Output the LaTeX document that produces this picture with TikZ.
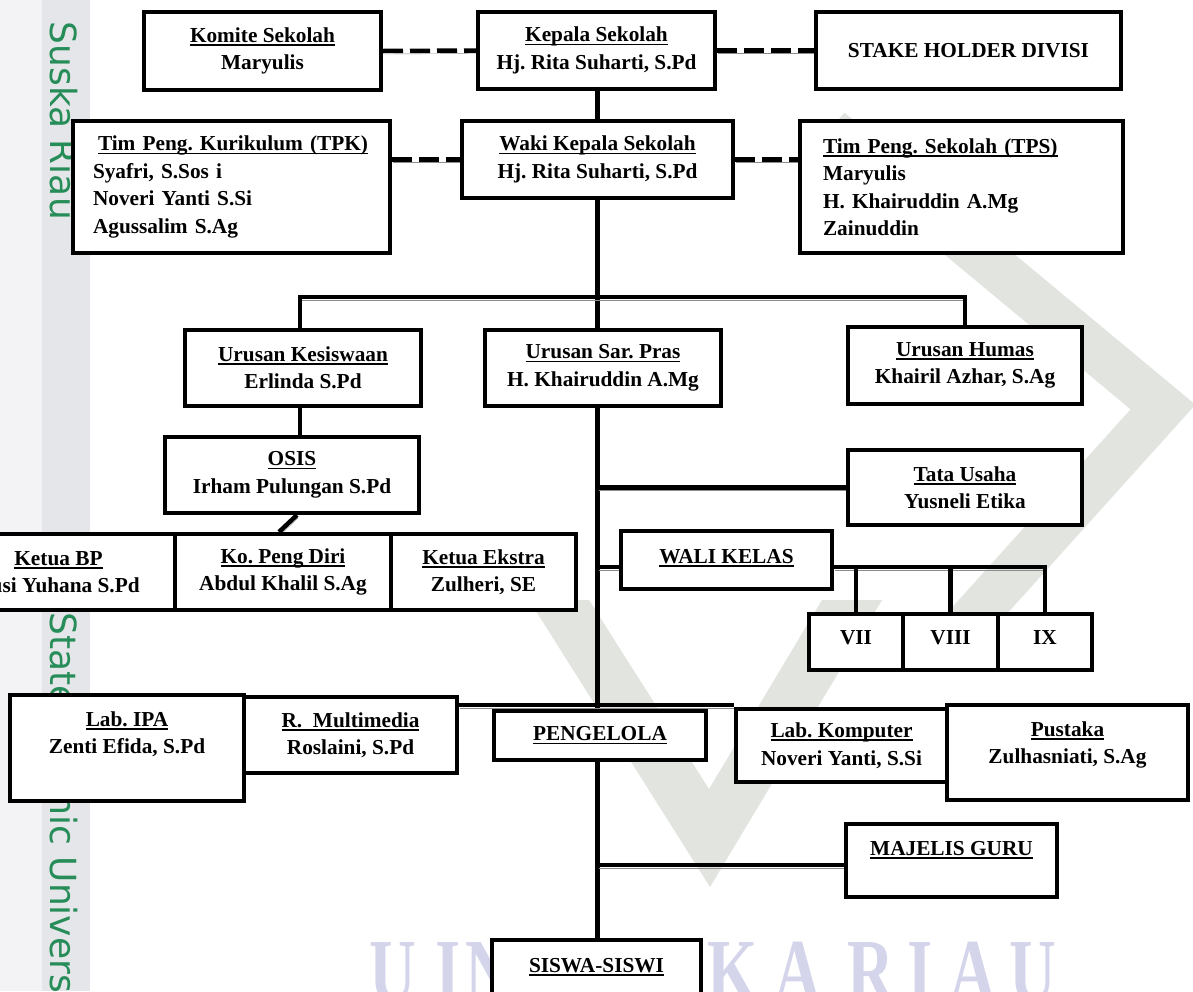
\documentclass[tikz,border=0pt]{standalone}
\usepackage{fontspec}
\setmainfont{Liberation Serif}
\newfontfamily\wmfont{Liberation Serif}[FakeStretch=0.72]
\newfontfamily\stripfont{DejaVu Sans}
\definecolor{stripA}{RGB}{243,243,245}
\definecolor{stripB}{RGB}{229,230,233}
\definecolor{wmgray}{RGB}{226,228,223}
\definecolor{wmlav}{RGB}{212,212,235}
\definecolor{stripgreen}{RGB}{38,140,88}
\definecolor{shadowc}{RGB}{140,140,140}
\newcommand\txtfont{\fontsize{21.3}{27.5}\selectfont\bfseries\frenchspacing}
\newcommand\ulx[1]{\setbox0=\hbox{#1}\rlap{\rule[-3.5pt]{\wd0}{1.6pt}}\box0}
\pgfdeclarelayer{wm}
\pgfdeclarelayer{conns}
\pgfsetlayers{wm,conns,main}
\tikzset{
  box/.style={draw=black, line width=4pt, fill=white, inner sep=0pt, align=center, font=\txtfont},
  txt/.style={inner sep=0pt, align=center, font=\txtfont},
  at box/.style n args={4}{minimum width={(#3)-(#1)-4}, minimum height={(#4)-(#2)-4},
      at={({((#1)+(#3))/2},{((#2)+(#4))/2})}},
  conn/.style={line width=4.5pt, line cap=butt, draw=black,
      preaction={draw=shadowc, transform canvas={shift={(1pt,-3pt)}}}},
  dconn/.style={conn, dash pattern=on 20pt off 7pt},
  stripT/.style={text=stripgreen, font={\stripfont\fontsize{36}{40}\selectfont}, rotate=-90, inner sep=0pt},
  wmletter/.style={text=wmlav, font={\wmfont\bfseries\fontsize{90}{90}\selectfont}, inner sep=0pt, anchor=north},
}
\begin{document}
\begin{tikzpicture}[x=1pt,y=-1pt]
\useasboundingbox (0,0) rectangle (1193,991);
\begin{pgfonlayer}{wm}
\fill[white] (0,0) rectangle (1193,991);
\fill[stripA] (0,0) rectangle (42,991);
\fill[stripB] (42,0) rectangle (90,991);
\fill[wmgray] (529,600) -- (710,887) -- (882,600) -- (822,600) -- (709,789) -- (589,600) -- cycle;
\draw[wmgray, line width=45pt] (830,130) -- (1163,407) -- (953,640);
\foreach \l/\x/\n in {U/393/a, I/448/b, N/489/c, K/733/d, A/798/e, R/871/f, I/920/g, A/973/h, U/1033/i}
  {\node[wmletter] (wl\n) at (\x,942) {\l};}
\node[stripT, anchor=base east] (stripS) at (50,220) {Suska Riau};
\node[stripT, anchor=base west] (stripU) at (50,612) {State Islamic University of Sultan Syarif Kasim Riau};
\end{pgfonlayer}

% ---- boxes
\path
  node[box, at box={142}{10}{383}{92}] (komite) {\ulx{Komite Sekolah}\\Maryulis}
  node[box, at box={476}{10}{717}{91}] (kepala) {\ulx{Kepala Sekolah}\\Hj. Rita Suharti, S.Pd}
  node[box, at box={814}{10}{1123}{91}] (stake) {STAKE HOLDER DIVISI}
  node[box, at box={71}{119}{392}{255}, align=left, text width=277pt, inner xsep=20pt] (tpk)
     {\hspace*{5pt}\ulx{Tim Peng. Kurikulum (TPK)}\\Syafri, S.Sos i\\Noveri Yanti S.Si\\Agussalim S.Ag}
  node[box, at box={460}{119}{735}{200}] (waki) {\ulx{Waki Kepala Sekolah}\\Hj. Rita Suharti, S.Pd}
  node[box, at box={800}{119}{1123}{255}, align=left, text width=277pt, inner xsep=23pt] (tps)
     {\ulx{Tim Peng. Sekolah (TPS)}\\Maryulis\\H. Khairuddin A.Mg\\Zainuddin}
  node[box, at box={183}{328}{423}{408}] (kesiswaan) {\ulx{Urusan Kesiswaan}\\Erlinda S.Pd}
  node[box, at box={483}{328}{723}{408}] (sarpras) {\ulx{Urusan Sar. Pras}\\H. Khairuddin A.Mg}
  node[box, at box={846}{325}{1084}{406}] (humas) {\ulx{Urusan Humas}\\Khairil Azhar, S.Ag}
  node[box, at box={163}{435}{421}{515}] (osis) {\ulx{OSIS}\\Irham Pulungan S.Pd}
  node[box, at box={846}{448}{1084}{527}] (tata) {\ulx{Tata Usaha}\\Yusneli Etika}
  node[box, at box={-60}{532}{177}{612}] (ketuabp) {\ulx{Ketua BP}\\Yusi Yuhana S.Pd}
  node[box, at box={173}{532}{393}{612}] (kopeng) {\ulx{Ko. Peng Diri}\\Abdul Khalil S.Ag}
  node[box, at box={389}{532}{578}{612}] (ekstra) {\ulx{Ketua Ekstra}\\Zulheri, SE}
  node[box, at box={619}{529}{834}{591}] (wali) {\raisebox{4pt}[14pt][0pt]{\ulx{WALI KELAS}}}
  node[box, at box={807}{612}{905}{672}] (vii) {\raisebox{5pt}[14pt][0pt]{VII}}
  node[box, at box={901}{612}{1000}{672}] (viii) {\raisebox{5pt}[14pt][0pt]{VIII}}
  node[box, at box={996}{612}{1094}{672}] (ix) {\raisebox{5pt}[14pt][0pt]{IX}}
  node[box, at box={8}{693}{246}{803}] (labipa) {}
  node[box, at box={242}{695}{459}{775}] (multi) {\ulx{R.\ \ Multimedia}\\Roslaini, S.Pd}
  node[box, at box={492}{709}{708}{762}] (pengelola) {\ulx{PENGELOLA}}
  node[box, at box={734}{707}{949}{784}] (labkom) {\ulx{Lab. Komputer}\\Noveri Yanti, S.Si}
  node[box, at box={945}{703}{1190}{802}] (pustaka) {}
  node[box, at box={844}{822}{1059}{899}] (majelis) {}
  node[box, at box={490}{938}{703}{1015}] (siswa) {};

% texts placed near the top of their boxes
\node[txt, anchor=north, yshift=-17pt] (labipaT) at (labipa.north) {\rule{0pt}{16pt}\ulx{Lab. IPA}\\Zenti Efida, S.Pd};
\node[txt, anchor=north, yshift=-17pt] (pustakaT) at (pustaka.north) {\rule{0pt}{16pt}\ulx{Pustaka}\\Zulhasniati, S.Ag};
\node[txt, anchor=north, yshift=-17pt] (majelisT) at (majelis.north) {\rule{0pt}{16pt}\ulx{MAJELIS GURU}};
\node[txt, anchor=north, yshift=-18pt] (siswaT) at (siswa.north) {\rule{0pt}{16pt}\ulx{SISWA-SISWI}};

% junction points
\coordinate (hub) at (597.5,297);
\coordinate (busL) at (300,297);
\coordinate (busR) at (965,297);
\coordinate (wj) at (597.5,567);
\coordinate (pj) at (597.5,705);
\coordinate (mj) at (597.5,865);

% ---- connectors
\begin{pgfonlayer}{conns}
\draw[dconn] (komite.east) -- (kepala.west);
\draw[dconn] (kepala.east) -- (stake.west);
\draw[dconn] (tpk.east |- waki.west) -- (waki.west);
\draw[dconn] (waki.east) -- (waki.east -| tps.west);
% trunk
\draw[conn] (kepala.south -| hub) -- (waki.north -| hub);
\draw[conn] (waki.south -| hub) -- (sarpras.north -| hub);
\draw[conn] (sarpras.south -| hub) -- (pengelola.north -| hub);
\draw[conn] (pengelola.south -| hub) -- (siswa.north -| hub);
% bus to the three Urusan
\draw[conn] (kesiswaan.north -| busL) -- (busL) -- (busR) -- (humas.north);
\draw[conn] (kesiswaan.south -| busL) -- (osis.north -| busL);
\draw[conn] ([xshift=5pt]osis.south) -- ([xshift=-4pt]kopeng.north);
% right branches
\draw[conn] (tata.west -| hub) -- (tata.west);
\draw[conn] (wj) -- (wj -| wali.west);
\draw[conn] (wj -| wali.east) -- (wj -| ix.north) -- (ix.north);
\draw[conn] (wj -| vii.north) -- (vii.north);
\draw[conn] (wj -| viii.north) -- (viii.north);
\draw[conn] (pj -| multi.east) -- (pj -| labkom.west);
\draw[conn] (mj) -- (mj -| majelis.west);
\end{pgfonlayer}
\end{tikzpicture}
\end{document}
